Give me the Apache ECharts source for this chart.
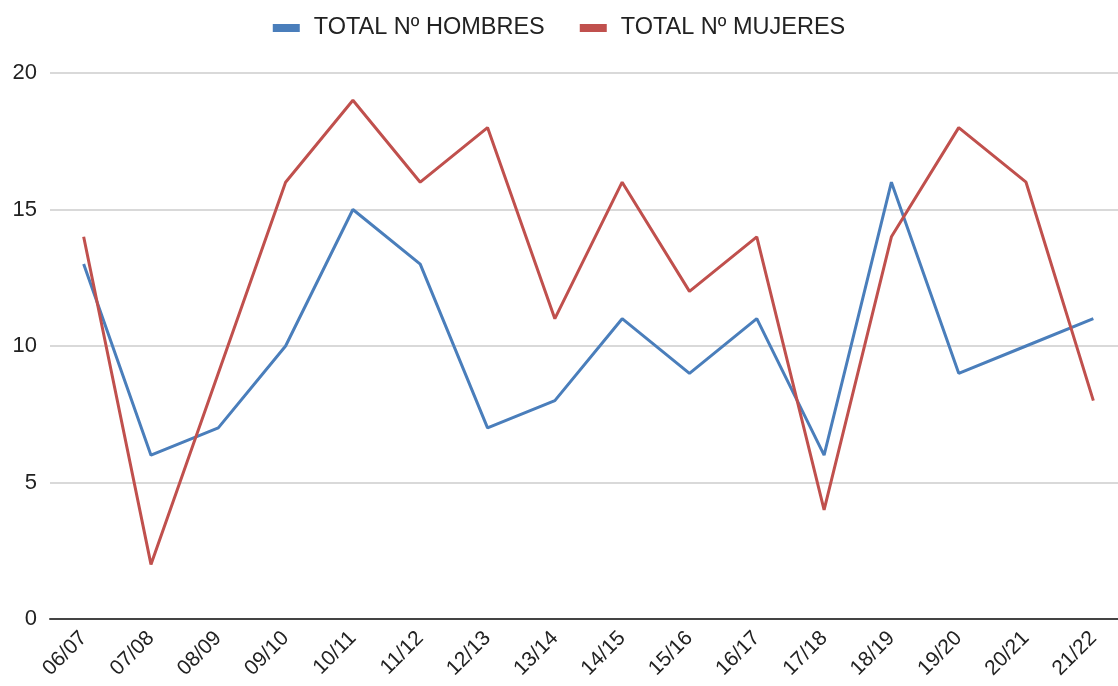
<!DOCTYPE html>
<html>
<head>
<meta charset="utf-8">
<script src="https://cdn.jsdelivr.net/npm/echarts@6/dist/echarts.min.js"></script>
<style>
    html, body { margin: 0; padding: 0; background: #fff; }
    #chart { width: 1118px; height: 686px; }
</style>
</head>
<body>
<div id="chart"></div>
<script>
    // temporadas
    var categories = ['06/07', '07/08', '08/09', '09/10', '10/11', '11/12', '12/13', '13/14',
        '14/15', '15/16', '16/17', '17/18', '18/19', '19/20', '20/21', '21/22'];
    var hombres = [13, 6, 7, 10, 15, 13, 7, 8, 11, 9, 11, 6, 16, 9, 10, 11];
    var mujeres = [14, 2, 9, 16, 19, 16, 18, 11, 16, 12, 14, 4, 14, 18, 16, 8];
    var yTicks = [0, 5, 10, 15, 20];

    var chart = echarts.init(document.getElementById('chart'));
    var fontFamily = 'Liberation Sans, Arial, sans-serif';

    chart.setOption({
        animation: false,
        color: ['#4a7ebb', '#c0504d'],
        legend: {
            top: 11,
            left: 'center',
            itemWidth: 27,
            itemHeight: 8,
            itemGap: 35,
            icon: 'rect',
            textStyle: {
                color: '#222',
                fontSize: 23.5,
                fontFamily: fontFamily,
                padding: [0, 0, 0, 9]
            }
        },
        grid: {
            left: 50,
            top: 73,
            right: -9, // la imagen original está recortada por la derecha
            bottom: 67,
            outerBoundsMode: 'none',
            containLabel: false
        },
        xAxis: {
            type: 'category',
            data: categories,
            boundaryGap: true,
            axisTick: { show: false },
            axisLine: { lineStyle: { color: '#444', width: 2 } },
            axisLabel: {
                rotate: 45,
                interval: 0,
                margin: 16,
                color: '#222',
                fontSize: 21,
                fontFamily: fontFamily
            }
        },
        yAxis: {
            type: 'value',
            min: yTicks[0],
            max: yTicks[yTicks.length - 1],
            interval: 5,
            axisLine: { show: false },
            axisTick: { show: false },
            splitLine: { lineStyle: { color: '#cccccc', width: 1.5 } },
            axisLabel: {
                margin: 13,
                color: '#222',
                fontSize: 22,
                fontFamily: fontFamily
            }
        },
        series: [
            {
                name: 'TOTAL Nº HOMBRES',
                type: 'line',
                data: hombres,
                symbol: 'none',
                lineStyle: { width: 3 }
            },
            {
                name: 'TOTAL Nº MUJERES',
                type: 'line',
                data: mujeres,
                symbol: 'none',
                lineStyle: { width: 3 }
            }
        ]
    });
</script>
</body>
</html>
